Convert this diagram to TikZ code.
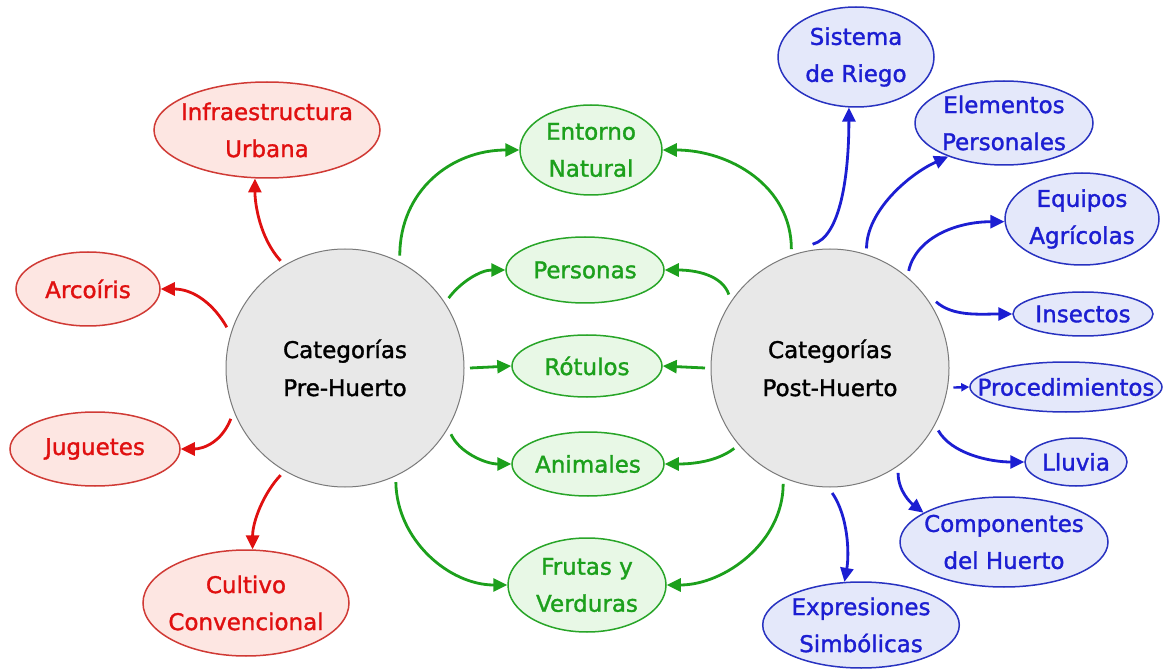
\documentclass[tikz,border=0pt]{standalone}
\usepackage{fontspec}
\setmainfont[FakeBold=1.4]{DejaVu Sans}
\usetikzlibrary{shapes.geometric,arrows.meta}
\definecolor{rtext}{RGB}{224,16,16}
\definecolor{rfill}{RGB}{253,230,226}
\definecolor{rline}{RGB}{208,58,53}
\definecolor{gtext}{RGB}{28,160,28}
\definecolor{gfill}{RGB}{232,248,230}
\definecolor{gline}{RGB}{40,165,40}
\definecolor{btext}{RGB}{28,30,210}
\definecolor{bfill}{RGB}{228,232,250}
\definecolor{bline}{RGB}{40,50,192}
\definecolor{cfill}{RGB}{232,232,232}
\definecolor{cline}{RGB}{122,122,122}
\tikzset{
  lbl/.style={ellipse, inner sep=0pt, align=center, line width=1.5pt,
    font=\fontsize{23}{37}\selectfont},
  rnode/.style={lbl, draw=rline, fill=rfill, text=rtext},
  gnode/.style={lbl, draw=gline, fill=gfill, text=gtext},
  bnode/.style={lbl, draw=bline, fill=bfill, text=btext},
  cat/.style={circle, draw=cline, fill=cfill, line width=1pt, minimum size=238pt,
    outer sep=6pt, align=center, font=\fontsize{23}{38}\selectfont},
  conn/.style={line width=2.8pt, -{Triangle[length=14pt,width=13pt]}},
  rconn/.style={conn, draw=rtext},
  gconn/.style={conn, draw=gtext},
  bconn/.style={conn, draw=btext},
}
\begin{document}
\begin{tikzpicture}[x=1pt,y=-1pt]
\useasboundingbox (0,0) rectangle (1163,671);
% categories
\node[cat] (pre) at (345,368) {Categorías\\Pre-Huerto};
\node[cat] (post) at (830,368) {Categorías\\Post-Huerto};
% red nodes
\node[rnode, minimum width=226pt, minimum height=96pt] (infra) at (267,130) {\makebox[150pt]{Infraestructura}\\Urbana};
\node[rnode, minimum width=144pt, minimum height=74pt] (arco) at (88,289) {Arcoíris};
\node[rnode, minimum width=170pt, minimum height=74pt] (jug) at (95,449) {Juguetes};
\node[rnode, minimum width=206pt, minimum height=106pt] (cult) at (246,603) {Cultivo\\\makebox[140pt]{Convencional}};
% green nodes
\node[gnode, minimum width=142pt, minimum height=90pt] (ent) at (591,150) {Entorno\\Natural};
\node[gnode, minimum width=158pt, minimum height=66pt] (pers) at (585,270) {Personas};
\node[gnode, minimum width=150pt, minimum height=62pt] (rot) at (587,366) {Rótulos};
\node[gnode, minimum width=152pt, minimum height=64pt] (anim) at (588,464) {Animales};
\node[gnode, minimum width=158pt, minimum height=94pt] (frut) at (587,585) {Frutas y\\Verduras};
% blue nodes
\node[bnode, minimum width=156pt, minimum height=100pt] (sist) at (856,57) {Sistema\\de Riego};
\node[bnode, minimum width=178pt, minimum height=84pt] (elem) at (1004,123) {Elementos\\Personales};
\node[bnode, minimum width=154pt, minimum height=92pt] (equi) at (1082,219) {Equipos\\Agrícolas};
\node[bnode, minimum width=140pt, minimum height=44pt] (inse) at (1083,314) {Insectos};
\node[bnode, minimum width=192pt, minimum height=50pt] (proc) at (1066,387) {\makebox[120pt]{Procedimientos}};
\node[bnode, minimum width=102pt, minimum height=48pt] (lluv) at (1076,462) {Lluvia};
\node[bnode, minimum width=208pt, minimum height=90pt] (comp) at (1004,542) {\makebox[140pt]{Componentes}\\del Huerto};
\node[bnode, minimum width=196pt, minimum height=86pt] (expr) at (861,625) {Expresiones\\Simbólicas};
% red connectors
\draw[rconn] (pre.121) .. controls +(-21,-23) and +(0,25) .. (infra.256);
\draw[rconn] (pre.161) .. controls +(-13,-23) and +(33,0) .. (arco.east);
\draw[rconn] (pre.204) .. controls +(-9,23) and +(23,0) .. (jug.east);
\draw[rconn] (pre.239) .. controls +(-17,18) and +(0,-28) .. (cult.83);
% green connectors
\draw[gconn] (pre.64) .. controls +(0,-65) and +(-68,0) .. (ent.west);
\draw[gconn] (post.108) .. controls +(0,-63) and +(67,0) .. (ent.east);
\draw[gconn] (pre.34) .. controls +(12,-16) and +(-25,0) .. (pers.west);
\draw[gconn] (post.144) .. controls +(-7,-20) and +(30,0) .. (pers.east);
\draw[gconn] (pre.0) -- (rot.west);
\draw[gconn] (post.180) -- (rot.east);
\draw[gconn] (pre.-32) .. controls +(8,18) and +(-26,0) .. (anim.west);
\draw[gconn] (post.220) .. controls +(-17,13) and +(29,0) .. (anim.east);
\draw[gconn] (pre.-66) .. controls +(1,58) and +(-58,0) .. (frut.west);
\draw[gconn] (post.248) .. controls +(0,58) and +(58,0) .. (frut.east);
% blue connectors
\draw[bconn] (post.98) .. controls +(28,-7) and +(0,67) .. (sist.262);
\draw[bconn] (post.73) .. controls +(0,-37) and +(-40,18) .. (elem.211);
\draw[bconn] (post.51) .. controls +(7,-32) and +(-50,0) .. (equi.182);
\draw[bconn] (post.32) .. controls +(17,15) and +(-33,0) .. (inse.west);
\draw[btext, line width=2.4pt, -{Triangle[length=8pt,width=8pt]}] (post.-9) -- (proc.west);
\draw[bconn] (post.-30) .. controls +(13,23) and +(-35,0) .. (lluv.west);
\draw[bconn] (post.-57) .. controls +(0,18) and +(-13,-10) .. (comp.160);
\draw[bconn] (post.-89) .. controls +(16,23) and +(5,-28) .. (expr.111);
\end{tikzpicture}
\end{document}
